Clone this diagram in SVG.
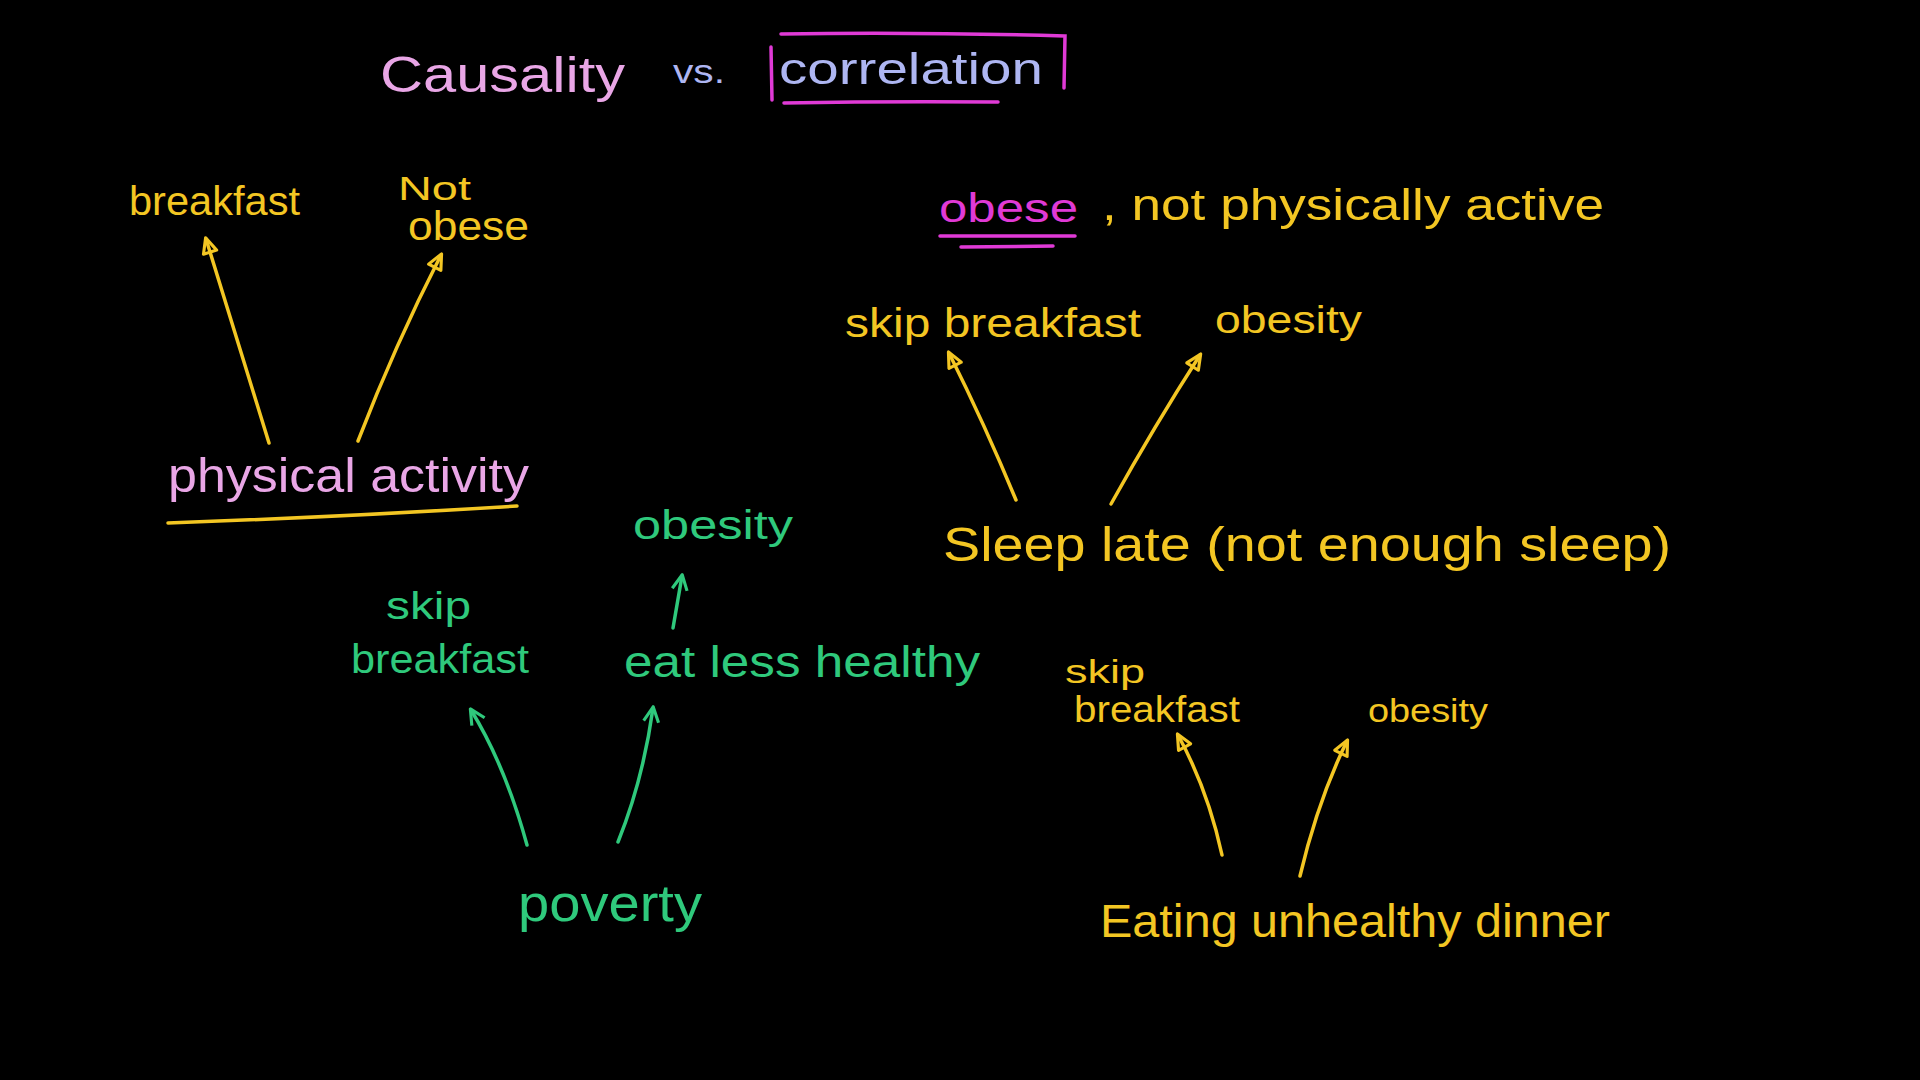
<svg xmlns="http://www.w3.org/2000/svg" width="1920" height="1080" viewBox="0 0 1920 1080">
<style>
text{font-family:"Liberation Sans","Noto Sans",sans-serif;}
.y{fill:#f3c623}
.g{fill:#2fc97c}
.p{fill:#e9a6e6}
.l{fill:#aeb6f2}
.m{fill:#e03ad6}
.ay{stroke:#f3c623;stroke-width:3.5;fill:none;stroke-linecap:round}
.ag{stroke:#2fc97c;stroke-width:3.5;fill:none;stroke-linecap:round}
.lm{stroke:#e03ad6;stroke-width:3.5;fill:none;stroke-linecap:round}
.ly{stroke:#f3c623;stroke-width:3.5;fill:none;stroke-linecap:round}
</style>
<defs>
<marker id="hy" viewBox="0 0 16 16" refX="13" refY="8" markerWidth="20" markerHeight="20" markerUnits="userSpaceOnUse" orient="auto">
<path d="M2,2.5 L14,8 L2,13.5 Z" fill="none" stroke="#f3c623" stroke-width="2.5" stroke-linejoin="round"/>
</marker>
<marker id="hg" viewBox="0 0 16 16" refX="13" refY="8" markerWidth="20" markerHeight="20" markerUnits="userSpaceOnUse" orient="auto">
<path d="M2,2 L14,8 L2,14" fill="none" stroke="#2fc97c" stroke-width="2.5" stroke-linejoin="round"/>
</marker>
</defs>
<rect x="0" y="0" width="1920" height="1080" fill="#000"/>

<g id="title">
<text class="p" x="380" y="92" font-size="50" textLength="245" lengthAdjust="spacingAndGlyphs">Causality</text>
<text class="l" x="673" y="83" font-size="34" textLength="52" lengthAdjust="spacingAndGlyphs">vs.</text>
<text class="l" x="779" y="84" font-size="44" textLength="264" lengthAdjust="spacingAndGlyphs">correlation</text>
<path class="lm" d="M771,47 L772,100 M781,34 Q920,32 1065,36 L1064,88 M784,103 Q890,101 998,102"/>
</g>

<g id="n-breakfast"><text class="y" x="129" y="215" font-size="40" textLength="171" lengthAdjust="spacingAndGlyphs">breakfast</text></g>
<g id="n-not-obese">
<text class="y" x="398" y="200" font-size="34" textLength="73" lengthAdjust="spacingAndGlyphs">Not</text>
<text class="y" x="408" y="240" font-size="40" textLength="121" lengthAdjust="spacingAndGlyphs">obese</text>
</g>
<g id="n-physical-activity">
<text class="p" x="168" y="492" font-size="48" textLength="361" lengthAdjust="spacingAndGlyphs">physical activity</text>
<path class="ly" d="M168,523 Q340,517 517,506"/>
</g>

<g id="n-obese-header">
<text class="m" x="939" y="222" font-size="40" textLength="139" lengthAdjust="spacingAndGlyphs">obese</text>
<path class="lm" d="M940,236 L1075,236 M961,247 L1053,246"/>
<text class="y" x="1102" y="220" font-size="44" textLength="502" lengthAdjust="spacingAndGlyphs">, not physically active</text>
</g>

<g id="n-skip-breakfast-1"><text class="y" x="845" y="337" font-size="40" textLength="296" lengthAdjust="spacingAndGlyphs">skip breakfast</text></g>
<g id="n-obesity-1"><text class="y" x="1215" y="333" font-size="38" textLength="147" lengthAdjust="spacingAndGlyphs">obesity</text></g>
<g id="n-sleep-late"><text class="y" x="943" y="561" font-size="48" textLength="728" lengthAdjust="spacingAndGlyphs">Sleep late (not enough sleep)</text></g>

<g id="n-obesity-2"><text class="g" x="633" y="539" font-size="40" textLength="160" lengthAdjust="spacingAndGlyphs">obesity</text></g>
<g id="n-skip-breakfast-2">
<text class="g" x="386" y="619" font-size="38" textLength="85" lengthAdjust="spacingAndGlyphs">skip</text>
<text class="g" x="351" y="673" font-size="40" textLength="178" lengthAdjust="spacingAndGlyphs">breakfast</text>
</g>
<g id="n-eat-less-healthy"><text class="g" x="624" y="677" font-size="44" textLength="356" lengthAdjust="spacingAndGlyphs">eat less healthy</text></g>
<g id="n-poverty"><text class="g" x="518" y="921" font-size="52" textLength="184" lengthAdjust="spacingAndGlyphs">poverty</text></g>

<g id="n-skip-breakfast-3">
<text class="y" x="1065" y="683" font-size="34" textLength="80" lengthAdjust="spacingAndGlyphs">skip</text>
<text class="y" x="1074" y="722" font-size="36" textLength="166" lengthAdjust="spacingAndGlyphs">breakfast</text>
</g>
<g id="n-obesity-3"><text class="y" x="1368" y="722" font-size="34" textLength="120" lengthAdjust="spacingAndGlyphs">obesity</text></g>
<g id="n-eating-unhealthy"><text class="y" x="1100" y="937" font-size="46" textLength="510" lengthAdjust="spacingAndGlyphs">Eating unhealthy dinner</text></g>

<g id="connectors">
<path class="ay" d="M269,443 L206,239" marker-end="url(#hy)"/>
<path class="ay" d="M358,441 Q395,345 441,255" marker-end="url(#hy)"/>
<path class="ay" d="M1016,500 Q985,425 949,353" marker-end="url(#hy)"/>
<path class="ay" d="M1111,504 Q1155,425 1200,355" marker-end="url(#hy)"/>
<path class="ag" d="M673,628 L682,576" marker-end="url(#hg)"/>
<path class="ag" d="M527,845 Q505,765 471,710" marker-end="url(#hg)"/>
<path class="ag" d="M618,842 Q643,780 653,708" marker-end="url(#hg)"/>
<path class="ay" d="M1222,855 Q1208,790 1178,735" marker-end="url(#hy)"/>
<path class="ay" d="M1300,876 Q1318,800 1347,741" marker-end="url(#hy)"/>
</g>
</svg>
